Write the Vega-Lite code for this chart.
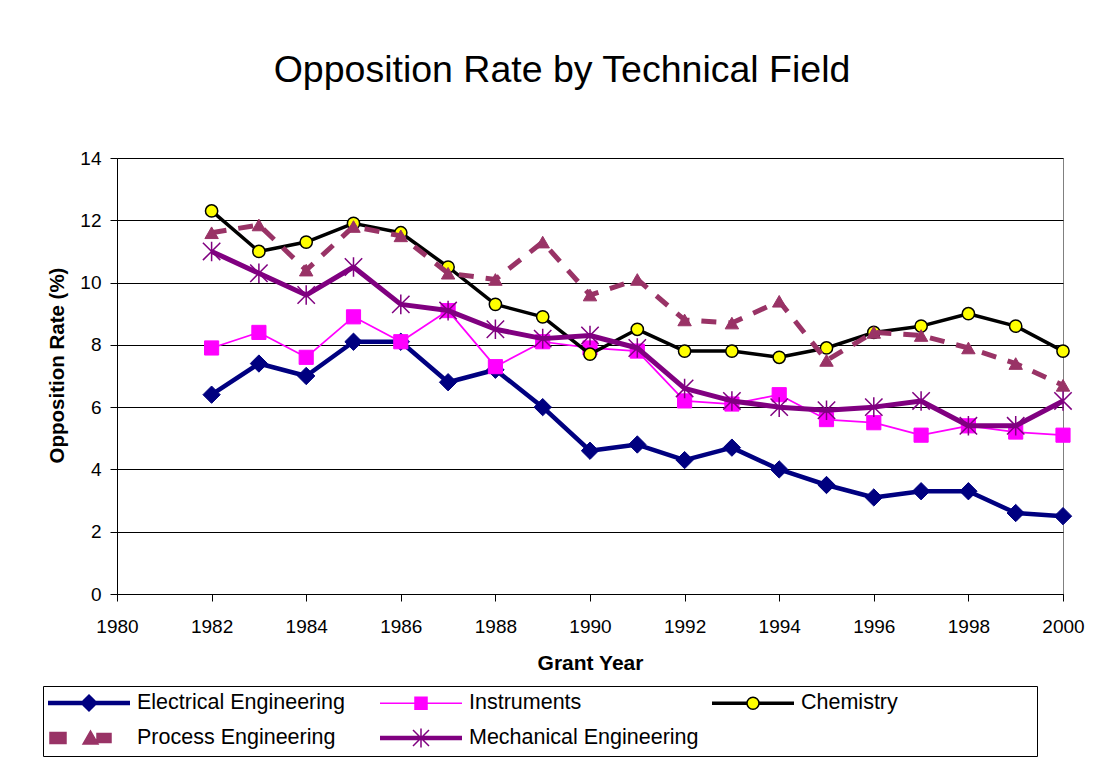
{
  "$schema": "https://vega.github.io/schema/vega-lite/v6.json",
  "width": 946,
  "height": 436,
  "autosize": {"type": "none"},
  "padding": {"left": 117, "top": 158, "right": 36, "bottom": 163},
  "background": "white",
  "config": {
    "font": "Liberation Sans",
    "view": {"stroke": "#808080", "strokeWidth": 1},
    "legend": {
      "direction": "horizontal",
      "columns": 3,
      "gridAlign": "all",
      "columnPadding": 10,
      "rowPadding": 10,
      "padding": 5,
      "strokeColor": "black",
      "fillColor": "white",
      "labelFont": "Liberation Sans",
      "labelFontSize": 21.5,
      "labelColor": "black",
      "labelLimit": 600,
      "labelOffset": 37,
      "symbolOffset": 30,
      "symbolSize": 400,
      "symbolStrokeWidth": 1.5,
      "symbolFillColor": "white",
      "symbolStrokeColor": "black",
      "symbolOpacity": 1,
      "titleOrient": "right",
      "titlePadding": 134,
      "titleFontSize": 10,
      "titleColor": "white"
    }
  },
  "title": {
    "text": "Opposition Rate by Technical Field",
    "font": "Liberation Sans",
    "fontSize": 37.5,
    "fontWeight": "normal",
    "color": "black",
    "anchor": "middle",
    "dx": -28,
    "offset": 60
  },
  "data": {
    "values": [
      {"series": "Electrical Engineering", "year": 1982, "rate": 6.4},
      {"series": "Electrical Engineering", "year": 1983, "rate": 7.4},
      {"series": "Electrical Engineering", "year": 1984, "rate": 7.0},
      {"series": "Electrical Engineering", "year": 1985, "rate": 8.1},
      {"series": "Electrical Engineering", "year": 1986, "rate": 8.1},
      {"series": "Electrical Engineering", "year": 1987, "rate": 6.8},
      {"series": "Electrical Engineering", "year": 1988, "rate": 7.2},
      {"series": "Electrical Engineering", "year": 1989, "rate": 6.0},
      {"series": "Electrical Engineering", "year": 1990, "rate": 4.6},
      {"series": "Electrical Engineering", "year": 1991, "rate": 4.8},
      {"series": "Electrical Engineering", "year": 1992, "rate": 4.3},
      {"series": "Electrical Engineering", "year": 1993, "rate": 4.7},
      {"series": "Electrical Engineering", "year": 1994, "rate": 4.0},
      {"series": "Electrical Engineering", "year": 1995, "rate": 3.5},
      {"series": "Electrical Engineering", "year": 1996, "rate": 3.1},
      {"series": "Electrical Engineering", "year": 1997, "rate": 3.3},
      {"series": "Electrical Engineering", "year": 1998, "rate": 3.3},
      {"series": "Electrical Engineering", "year": 1999, "rate": 2.6},
      {"series": "Electrical Engineering", "year": 2000, "rate": 2.5},
      {"series": "Instruments", "year": 1982, "rate": 7.9},
      {"series": "Instruments", "year": 1983, "rate": 8.4},
      {"series": "Instruments", "year": 1984, "rate": 7.6},
      {"series": "Instruments", "year": 1985, "rate": 8.9},
      {"series": "Instruments", "year": 1986, "rate": 8.1},
      {"series": "Instruments", "year": 1987, "rate": 9.1},
      {"series": "Instruments", "year": 1988, "rate": 7.3},
      {"series": "Instruments", "year": 1989, "rate": 8.1},
      {"series": "Instruments", "year": 1990, "rate": 7.9},
      {"series": "Instruments", "year": 1991, "rate": 7.8},
      {"series": "Instruments", "year": 1992, "rate": 6.2},
      {"series": "Instruments", "year": 1993, "rate": 6.1},
      {"series": "Instruments", "year": 1994, "rate": 6.4},
      {"series": "Instruments", "year": 1995, "rate": 5.6},
      {"series": "Instruments", "year": 1996, "rate": 5.5},
      {"series": "Instruments", "year": 1997, "rate": 5.1},
      {"series": "Instruments", "year": 1998, "rate": 5.4},
      {"series": "Instruments", "year": 1999, "rate": 5.2},
      {"series": "Instruments", "year": 2000, "rate": 5.1},
      {"series": "Chemistry", "year": 1982, "rate": 12.3},
      {"series": "Chemistry", "year": 1983, "rate": 11.0},
      {"series": "Chemistry", "year": 1984, "rate": 11.3},
      {"series": "Chemistry", "year": 1985, "rate": 11.9},
      {"series": "Chemistry", "year": 1986, "rate": 11.6},
      {"series": "Chemistry", "year": 1987, "rate": 10.5},
      {"series": "Chemistry", "year": 1988, "rate": 9.3},
      {"series": "Chemistry", "year": 1989, "rate": 8.9},
      {"series": "Chemistry", "year": 1990, "rate": 7.7},
      {"series": "Chemistry", "year": 1991, "rate": 8.5},
      {"series": "Chemistry", "year": 1992, "rate": 7.8},
      {"series": "Chemistry", "year": 1993, "rate": 7.8},
      {"series": "Chemistry", "year": 1994, "rate": 7.6},
      {"series": "Chemistry", "year": 1995, "rate": 7.9},
      {"series": "Chemistry", "year": 1996, "rate": 8.4},
      {"series": "Chemistry", "year": 1997, "rate": 8.6},
      {"series": "Chemistry", "year": 1998, "rate": 9.0},
      {"series": "Chemistry", "year": 1999, "rate": 8.6},
      {"series": "Chemistry", "year": 2000, "rate": 7.8},
      {"series": "Process Engineering", "year": 1982, "rate": 11.6},
      {"series": "Process Engineering", "year": 1983, "rate": 11.85},
      {"series": "Process Engineering", "year": 1984, "rate": 10.4},
      {"series": "Process Engineering", "year": 1985, "rate": 11.8},
      {"series": "Process Engineering", "year": 1986, "rate": 11.5},
      {"series": "Process Engineering", "year": 1987, "rate": 10.3},
      {"series": "Process Engineering", "year": 1988, "rate": 10.1},
      {"series": "Process Engineering", "year": 1989, "rate": 11.3},
      {"series": "Process Engineering", "year": 1990, "rate": 9.6},
      {"series": "Process Engineering", "year": 1991, "rate": 10.1},
      {"series": "Process Engineering", "year": 1992, "rate": 8.8},
      {"series": "Process Engineering", "year": 1993, "rate": 8.7},
      {"series": "Process Engineering", "year": 1994, "rate": 9.4},
      {"series": "Process Engineering", "year": 1995, "rate": 7.5},
      {"series": "Process Engineering", "year": 1996, "rate": 8.4},
      {"series": "Process Engineering", "year": 1997, "rate": 8.3},
      {"series": "Process Engineering", "year": 1998, "rate": 7.9},
      {"series": "Process Engineering", "year": 1999, "rate": 7.4},
      {"series": "Process Engineering", "year": 2000, "rate": 6.7},
      {"series": "Mechanical Engineering", "year": 1982, "rate": 11.0},
      {"series": "Mechanical Engineering", "year": 1983, "rate": 10.3},
      {"series": "Mechanical Engineering", "year": 1984, "rate": 9.6},
      {"series": "Mechanical Engineering", "year": 1985, "rate": 10.5},
      {"series": "Mechanical Engineering", "year": 1986, "rate": 9.3},
      {"series": "Mechanical Engineering", "year": 1987, "rate": 9.1},
      {"series": "Mechanical Engineering", "year": 1988, "rate": 8.5},
      {"series": "Mechanical Engineering", "year": 1989, "rate": 8.2},
      {"series": "Mechanical Engineering", "year": 1990, "rate": 8.3},
      {"series": "Mechanical Engineering", "year": 1991, "rate": 7.9},
      {"series": "Mechanical Engineering", "year": 1992, "rate": 6.6},
      {"series": "Mechanical Engineering", "year": 1993, "rate": 6.2},
      {"series": "Mechanical Engineering", "year": 1994, "rate": 6.0},
      {"series": "Mechanical Engineering", "year": 1995, "rate": 5.9},
      {"series": "Mechanical Engineering", "year": 1996, "rate": 6.0},
      {"series": "Mechanical Engineering", "year": 1997, "rate": 6.2},
      {"series": "Mechanical Engineering", "year": 1998, "rate": 5.4},
      {"series": "Mechanical Engineering", "year": 1999, "rate": 5.4},
      {"series": "Mechanical Engineering", "year": 2000, "rate": 6.2}
    ]
  },
  "encoding": {
    "x": {
      "field": "year",
      "type": "quantitative",
      "scale": {"domain": [1980, 2000], "nice": false, "zero": false},
      "axis": {
        "values": [1980, 1982, 1984, 1986, 1988, 1990, 1992, 1994, 1996, 1998, 2000],
        "format": "d",
        "title": "Grant Year",
        "titleFont": "Liberation Sans",
        "titleFontSize": 21,
        "titleFontWeight": "bold",
        "titleColor": "black",
        "titlePadding": 16,
        "labelFont": "Liberation Sans",
        "labelFontSize": 19,
        "labelColor": "black",
        "labelPadding": 16,
        "labelFlush": false,
        "labelOverlap": false,
        "tickSize": 7,
        "tickColor": "black",
        "domainColor": "black",
        "grid": false
      }
    },
    "y": {
      "field": "rate",
      "type": "quantitative",
      "scale": {"domain": [0, 14], "nice": false},
      "axis": {
        "values": [0, 2, 4, 6, 8, 10, 12, 14],
        "title": "Opposition Rate (%)",
        "titleFont": "Liberation Sans",
        "titleFontSize": 20.5,
        "titleFontWeight": "bold",
        "titleColor": "black",
        "titlePadding": 12,
        "titleY": 207,
        "labelFont": "Liberation Sans",
        "labelFontSize": 19,
        "labelColor": "black",
        "labelPadding": 9,
        "labelFlush": false,
        "tickSize": 7,
        "tickColor": "black",
        "domainColor": "black",
        "grid": true,
        "gridColor": "black",
        "gridOpacity": 1,
        "gridWidth": 1
      }
    }
  },
  "layer": [
    {
      "transform": [{"filter": "datum.year < 0"}],
      "mark": {"type": "point", "filled": true, "opacity": 1},
      "encoding": {
        "shape": {
          "field": "series",
          "type": "nominal",
          "scale": {
            "domain": ["Electrical Engineering", "Instruments", "Chemistry", "Process Engineering", "Mechanical Engineering"],
            "range": [
              "M-4.1,-0.15H4.1M-4.1,-0.05H4.1M-4.1,0.05H4.1M-4.1,0.15H4.1M0,-0.8L0.8,0L0,0.8L-0.8,0Z",
              "M-4.1,0H4.1M-0.6,-0.6H0.6V0.6H-0.6Z",
              "M-4.1,-0.1H-0.55M-4.1,0H-0.6M-4.1,0.1H-0.55M0.55,-0.1H4.1M0.6,0H4.1M0.55,0.1H4.1M-0.6,0A0.6,0.6,0,1,1,0.6,0A0.6,0.6,0,1,1,-0.6,0Z",
              "M-3.9,-0.55H-2.3V0.55H-3.9ZM-0.6,0.6L0.15,-0.7L0.9,0.6ZM0.8,-0.45H2.2V0.45H0.8Z",
              "M-4.1,-0.15H4.1M-4.1,-0.05H4.1M-4.1,0.05H4.1M-4.1,0.15H4.1M-0.8,-0.8L0.8,0.8M-0.8,0.8L0.8,-0.8M0,-0.95V0.95"
            ]
          },
          "legend": {"title": "\u00a0", "orient": "none", "legendX": -74, "legendY": 528}
        },
        "fill": {
          "field": "series",
          "type": "nominal",
          "scale": {
            "domain": ["Electrical Engineering", "Instruments", "Chemistry", "Process Engineering", "Mechanical Engineering"],
            "range": ["#000080", "#FF00FF", "#FFFF00", "#993366", "transparent"]
          },
          "legend": {"title": "\u00a0", "orient": "none", "legendX": -74, "legendY": 528}
        },
        "stroke": {
          "field": "series",
          "type": "nominal",
          "scale": {
            "domain": ["Electrical Engineering", "Instruments", "Chemistry", "Process Engineering", "Mechanical Engineering"],
            "range": ["#000080", "#FF00FF", "#000000", "#993366", "#800080"]
          },
          "legend": {"title": "\u00a0", "orient": "none", "legendX": -74, "legendY": 528}
        }
      }
    },
    {
      "transform": [{"filter": {"field": "series", "equal": "Electrical Engineering"}}],
      "mark": {"type": "line", "color": "#000080", "strokeWidth": 4.5, "strokeJoin": "round"},
      "encoding": {}
    },
    {
      "transform": [{"filter": {"field": "series", "equal": "Electrical Engineering"}}],
      "mark": {"type": "point", "shape": "diamond", "filled": true, "fill": "#000080", "stroke": "#000080", "strokeWidth": 1, "size": 300, "opacity": 1},
      "encoding": {}
    },
    {
      "transform": [{"filter": {"field": "series", "equal": "Instruments"}}],
      "mark": {"type": "line", "color": "#FF00FF", "strokeWidth": 1.75, "strokeJoin": "round"},
      "encoding": {}
    },
    {
      "transform": [{"filter": {"field": "series", "equal": "Instruments"}}],
      "mark": {"type": "point", "shape": "square", "filled": true, "fill": "#FF00FF", "stroke": "#FF00FF", "strokeWidth": 1, "size": 200, "opacity": 1},
      "encoding": {}
    },
    {
      "transform": [{"filter": {"field": "series", "equal": "Chemistry"}}],
      "mark": {"type": "line", "color": "#000000", "strokeWidth": 3.5, "strokeJoin": "round"},
      "encoding": {}
    },
    {
      "transform": [{"filter": {"field": "series", "equal": "Chemistry"}}],
      "mark": {"type": "point", "shape": "circle", "filled": true, "fill": "#FFFF00", "stroke": "#000000", "strokeWidth": 1.5, "size": 150, "opacity": 1},
      "encoding": {}
    },
    {
      "transform": [{"filter": {"field": "series", "equal": "Process Engineering"}}],
      "mark": {"type": "line", "color": "#993366", "strokeWidth": 5, "strokeDash": [15, 12], "strokeCap": "butt", "strokeJoin": "round"},
      "encoding": {}
    },
    {
      "transform": [{"filter": {"field": "series", "equal": "Process Engineering"}}],
      "mark": {"type": "point", "shape": "triangle-up", "filled": true, "fill": "#993366", "stroke": "#993366", "strokeWidth": 1, "size": 180, "opacity": 1},
      "encoding": {}
    },
    {
      "transform": [{"filter": {"field": "series", "equal": "Mechanical Engineering"}}],
      "mark": {"type": "line", "color": "#800080", "strokeWidth": 5, "strokeJoin": "round"},
      "encoding": {}
    },
    {
      "transform": [{"filter": {"field": "series", "equal": "Mechanical Engineering"}}],
      "mark": {"type": "point", "shape": "M-1.2,-1.2L1.2,1.2M-1.2,1.2L1.2,-1.2M0,-1.35V1.35", "filled": false, "fill": "transparent", "stroke": "#800080", "strokeWidth": 1.5, "size": 210, "opacity": 1},
      "encoding": {}
    }
  ]
}
